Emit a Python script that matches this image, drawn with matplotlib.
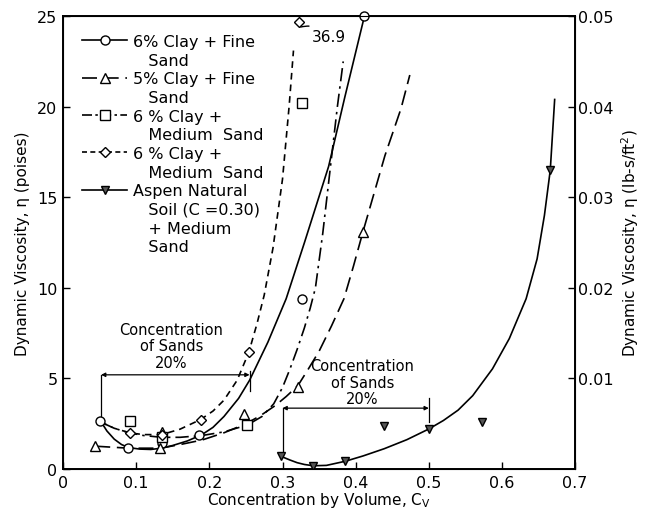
import numpy as np
import matplotlib
matplotlib.use("Agg")
import matplotlib.pyplot as plt
from matplotlib.lines import Line2D

plt.rcParams['font.family'] = ['DejaVu Sans']

# ---------------- data ----------------
# measured points
circ_x = [0.051, 0.089, 0.135, 0.186, 0.326, 0.412]
circ_y = [2.67, 1.14, 1.45, 1.90, 9.40, 25.0]

tri_x = [0.044, 0.133, 0.135, 0.247, 0.321, 0.410]
tri_y = [1.26, 1.14, 2.03, 3.04, 4.52, 13.1]

sq_x = [0.091, 0.135, 0.252, 0.326]
sq_y = [2.64, 1.75, 2.43, 20.2]

dia_x = [0.092, 0.135, 0.188, 0.254, 0.322]
dia_y = [1.99, 1.90, 2.73, 6.45, 36.9]

asp_x = [0.298, 0.342, 0.386, 0.439, 0.500, 0.573, 0.666]
asp_y = [0.70, 0.18, 0.43, 2.40, 2.21, 2.62, 16.5]

# fitted curves
circ_cx = [0.051, 0.06, 0.07, 0.08, 0.09, 0.105, 0.12, 0.135, 0.15, 0.17, 0.19, 0.205, 0.22, 0.24,
           0.255, 0.28, 0.305, 0.33, 0.363, 0.385, 0.412]
circ_cy = [2.67, 2.10, 1.65, 1.35, 1.18, 1.10, 1.08, 1.15, 1.30, 1.55, 1.90, 2.30, 2.90, 3.90,
           4.90, 7.00, 9.40, 12.5, 16.7, 20.5, 25.0]

tri_cx = [0.044, 0.09, 0.133, 0.16, 0.19, 0.22, 0.25, 0.27, 0.29, 0.305, 0.321, 0.335, 0.35, 0.367,
          0.384, 0.397, 0.41, 0.425, 0.44, 0.462, 0.474]
tri_cy = [1.26, 1.15, 1.15, 1.35, 1.60, 2.00, 2.50, 2.95, 3.50, 4.00, 4.60, 5.50, 6.50, 7.90,
          9.40, 11.2, 13.1, 15.2, 17.3, 19.9, 21.75]

sq_cx = [0.051, 0.07, 0.09, 0.11, 0.135, 0.16, 0.19, 0.22, 0.252, 0.272, 0.288, 0.30, 0.31, 0.32,
         0.33, 0.338, 0.345, 0.355, 0.365, 0.375, 0.383]
sq_cy = [2.60, 2.25, 2.00, 1.85, 1.75, 1.75, 1.85, 2.05, 2.43, 2.90, 3.60, 4.50, 5.50, 6.60,
         7.80, 8.90, 10.0, 13.0, 16.5, 20.0, 22.5]

dia_cx = [0.051, 0.07, 0.092, 0.11, 0.135, 0.16, 0.188, 0.205, 0.22, 0.238, 0.254, 0.265, 0.275,
          0.287, 0.30, 0.309, 0.315]
dia_cy = [2.60, 2.25, 1.99, 1.90, 1.90, 2.20, 2.73, 3.20, 3.80, 4.90, 6.45, 8.00, 9.60,
          12.2, 16.0, 20.0, 23.1]

asp_cx = [0.298, 0.31, 0.32, 0.33, 0.342, 0.36, 0.386, 0.41, 0.439, 0.47, 0.50, 0.52, 0.54, 0.56,
          0.587, 0.61, 0.633, 0.648, 0.658, 0.666, 0.672]
asp_cy = [0.70, 0.50, 0.35, 0.25, 0.18, 0.20, 0.43, 0.72, 1.12, 1.62, 2.21, 2.68, 3.25, 4.05,
          5.53, 7.20, 9.40, 11.6, 14.0, 16.5, 20.4]

labels = ["6% Clay + Fine", "Sand", "5% Clay + Fine", "Sand", "6 % Clay +", "Medium  Sand",
          "6 % Clay +", "Medium  Sand", "Aspen Natural", "Soil (C =0.30)", "+ Medium", "Sand"]

xticks = [0, 0.1, 0.2, 0.3, 0.4, 0.5, 0.6, 0.7]
xticklabels = ["0", "0.1", "0.2", "0.3", "0.4", "0.5", "0.6", "0.7"]
yticks = [0, 5, 10, 15, 20, 25]
y2ticks = [0.01, 0.02, 0.03, 0.04, 0.05]
y2ticklabels = ["0.01", "0.02", "0.03", "0.04", "0.05"]

# ---------------- figure ----------------
fig = plt.figure(figsize=(6.45, 5.10), dpi=100)
ax = fig.add_axes([0.0977, 0.0784, 0.794, 0.888])
FS = 10.5     # annotations
LFS = 11.5    # legend
AFS = 11.0    # axis titles
TFS = 11.5    # tick labels
lw = 1.2
k = 'black'

ax.plot(circ_cx, circ_cy, color=k, lw=lw, ls='-')
ax.plot(tri_cx, tri_cy, color=k, lw=lw, ls=(0, (9, 4)))
ax.plot(sq_cx, sq_cy, color=k, lw=lw, ls=(0, (8, 3, 1.5, 3)))
ax.plot(dia_cx, dia_cy, color=k, lw=lw, ls=(0, (4, 3)))
ax.plot(asp_cx, asp_cy, color=k, lw=lw, ls='-')

ms = 6.5
mk = dict(ls='none', mfc='white', mec=k, mew=1.0, ms=ms, clip_on=False, zorder=5)
ax.plot(circ_x, circ_y, marker='o', **mk)
ax.plot(tri_x, tri_y, marker='^', **mk)
ax.plot(sq_x, sq_y, marker='s', **mk)
ax.plot(dia_x, np.minimum(dia_y, 24.7), marker='D', **{**mk, 'ms': 5.5})
ax.plot(asp_x, asp_y, marker='v', ls='none', mfc='#555555', mec=k, mew=1.0, ms=6, zorder=5)

# 36.9 label
ax.annotate("36.9", xy=(dia_x[-1] + 0.003, 24.4), xytext=(0.34, 23.9), fontsize=FS + 0.5,
            va='center', ha='left',
            arrowprops=dict(arrowstyle='-', color=k, lw=1.0, shrinkA=0, shrinkB=0,
                            connectionstyle='arc3,rad=0.3'))

# brackets
def bracket(x0, x1, y, yl0, yr0, yr1):
    ax.annotate('', xy=(x0, y), xytext=(x1, y),
                arrowprops=dict(arrowstyle='<|-|>', mutation_scale=6, lw=0.9, color=k,
                                shrinkA=0, shrinkB=0))
    ax.plot([x0, x0], [yl0, y], color=k, lw=0.9)
    ax.plot([x1, x1], [yr0, yr1], color=k, lw=0.9)

bracket(0.052, 0.255, 5.2, 2.9, 4.3, 5.4)
bracket(0.300, 0.500, 3.36, 0.75, 2.6, 3.9)

ax.text(0.148, 6.8, "Concentration\nof Sands\n20%", ha='center', va='center',
        fontsize=FS, linespacing=1.1)
ax.text(0.409, 4.8, "Concentration\nof Sands\n20%", ha='center', va='center',
        fontsize=FS, linespacing=1.1)

ax.set_xlim(0, 0.7)
ax.set_ylim(0, 25)
ax.set_xticks(xticks)
ax.set_xticklabels(xticklabels)
ax.set_yticks(yticks)
ax.tick_params(direction='in', labelsize=TFS, length=5, width=1.0)
ax.tick_params(axis='x', pad=4)
ax.tick_params(axis='y', pad=4)
for s in ax.spines.values():
    s.set_linewidth(1.4)
ax.set_xlabel("Concentration by Volume, C$_\\mathregular{V}$", fontsize=AFS, labelpad=0)
ax.set_ylabel("Dynamic Viscosity, η (poises)", fontsize=AFS, labelpad=5)

ax2 = ax.twinx()
ax2.set_ylim(0, 0.05)
ax2.set_yticks(y2ticks)
ax2.set_yticklabels(y2ticklabels)
ax2.tick_params(direction='in', labelsize=TFS, length=5, width=1.0, pad=2)
ax2.set_ylabel("Dynamic Viscosity, η (lb-s/ft$^\\mathregular{2}$)", fontsize=AFS, labelpad=4)

# legend
blank = Line2D([], [], ls='none')
h_c = Line2D([], [], color=k, lw=lw, marker='o', mfc='white', mec=k, ms=ms)
h_t = Line2D([], [], color=k, lw=lw, ls=(0, (9, 4)), marker='^', mfc='white', mec=k, ms=ms)
h_s = Line2D([], [], color=k, lw=lw, ls=(0, (6, 2, 1.5, 2)), marker='s', mfc='white', mec=k, ms=ms)
h_d = Line2D([], [], color=k, lw=lw, ls=(0, (3, 2)), marker='D', mfc='white', mec=k, ms=5.5)
h_a = Line2D([], [], color=k, lw=lw, marker='v', mfc='#555555', mec=k, ms=6)
handles = [h_c, blank, h_t, blank, h_s, blank, h_d, blank, h_a, blank, blank, blank]
ind = "   "
leg_labels = [labels[0], ind + labels[1], labels[2], ind + labels[3], labels[4], ind + labels[5],
              labels[6], ind + labels[7], labels[8], ind + labels[9], ind + labels[10], ind + labels[11]]
ax.legend(handles, leg_labels, loc='upper left', bbox_to_anchor=(0.025, 0.975), frameon=False,
          fontsize=LFS, handlelength=2.8, handletextpad=0.4, labelspacing=0.23, borderaxespad=0)

fig.savefig("out.png", dpi=100)
